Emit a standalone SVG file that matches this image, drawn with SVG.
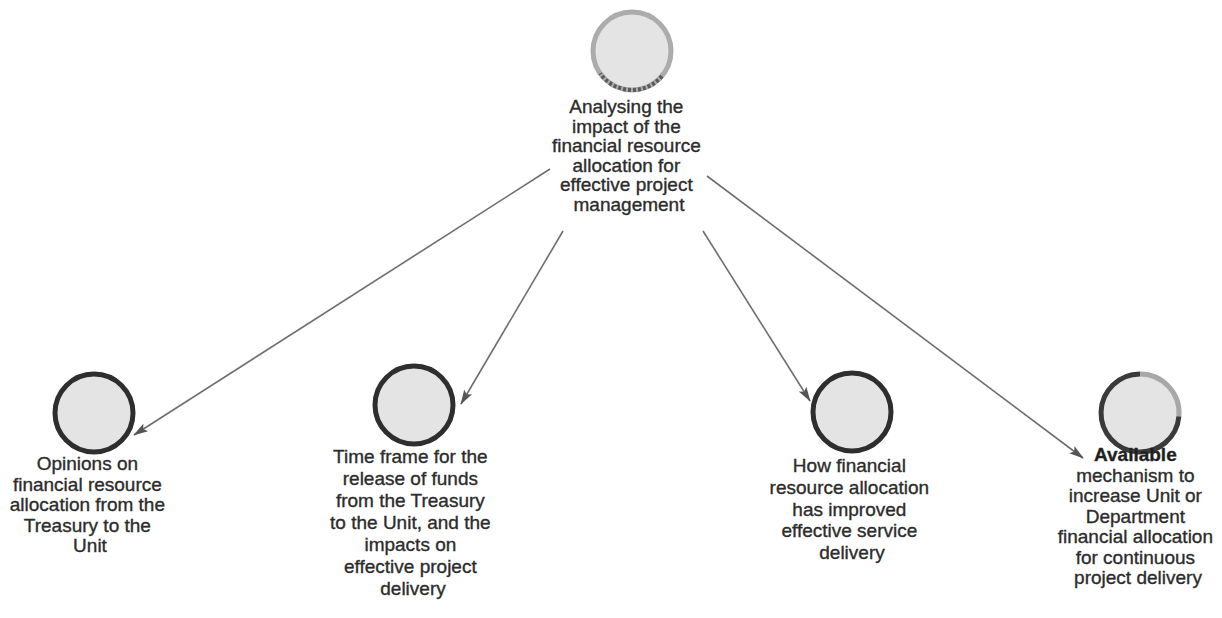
<svg xmlns="http://www.w3.org/2000/svg" width="1222" height="618" viewBox="0 0 1222 618">
  <defs>
    <style>
      .bg { fill: #ffffff; }
      .disc { fill: #e4e4e4; stroke: #2e2e2e; stroke-width: 5; }
      .disc-light { fill: #e4e4e4; stroke: #acacac; stroke-width: 5; }
      .arc-dark { fill: none; stroke: #3a3a3a; stroke-width: 5; }
      .arc-mid { fill: none; stroke: #5a5a5a; stroke-width: 4; stroke-dasharray: 3 2; }
      .arc-light { fill: none; stroke: #a8a8a8; stroke-width: 5; }
      .edge { fill: none; stroke: #6e6e6e; stroke-width: 1.6; marker-end: url(#arrow); }
      .label { font-family: "Liberation Sans", Arial, sans-serif; font-size: 19px; fill: #2c2c2c; stroke: #2c2c2c; stroke-width: 0.35; text-anchor: middle; }
      .strong { font-weight: bold; fill: #1e1e1e; }
    </style>
    <marker id="arrow" markerUnits="userSpaceOnUse" markerWidth="15" markerHeight="10" viewBox="0 0 15 10" refX="14" refY="5" orient="auto">
      <path d="M0,0.5 L15,5 L0,9.5 L3,5 z" fill="#555555"/>
    </marker>
  </defs>

  <rect class="bg" x="0" y="0" width="1222" height="618"/>

  <!-- connectors from the central theme to each sub-theme -->
  <g id="connectors">
    <line class="edge" x1="550" y1="169" x2="134" y2="435"/>
    <line class="edge" x1="563" y1="231" x2="461" y2="404"/>
    <line class="edge" x1="703" y1="231" x2="810" y2="401"/>
    <line class="edge" x1="707" y1="176" x2="1083" y2="458"/>
  </g>

  <!-- central theme -->
  <g id="node-root">
    <circle class="disc-light" cx="632" cy="51" r="39"/>
    <path class="arc-mid" d="M661.9 76.1 A39 39 0 0 1 600.1 73.4"/>
    <text class="label">
      <tspan x="629" y="113">Analysing the</tspan>
      <tspan x="629" y="132.5">impact of the</tspan>
      <tspan x="629" y="152">financial resource</tspan>
      <tspan x="629" y="171.5">allocation for</tspan>
      <tspan x="629" y="191">effective project</tspan>
      <tspan x="629" y="210.5">management</tspan>
    </text>
  </g>

  <g id="node-opinions">
    <circle class="disc" cx="94" cy="413" r="39"/>
    <text class="label">
      <tspan x="90" y="470">Opinions on</tspan>
      <tspan x="90" y="490.5">financial resource</tspan>
      <tspan x="90" y="511">allocation from the</tspan>
      <tspan x="90" y="531.5">Treasury to the</tspan>
      <tspan x="90" y="552">Unit</tspan>
    </text>
  </g>

  <g id="node-timeframe">
    <circle class="disc" cx="414" cy="405" r="39"/>
    <text class="label">
      <tspan x="413" y="463">Time frame for the</tspan>
      <tspan x="413" y="485">release of funds</tspan>
      <tspan x="413" y="507">from the Treasury</tspan>
      <tspan x="413" y="529">to the Unit, and the</tspan>
      <tspan x="413" y="551">impacts on</tspan>
      <tspan x="413" y="573">effective project</tspan>
      <tspan x="413" y="595">delivery</tspan>
    </text>
  </g>

  <g id="node-improved">
    <circle class="disc" cx="852" cy="412" r="39"/>
    <text class="label">
      <tspan x="852" y="472">How financial</tspan>
      <tspan x="852" y="493.75">resource allocation</tspan>
      <tspan x="852" y="515.5">has improved</tspan>
      <tspan x="852" y="537.25">effective service</tspan>
      <tspan x="852" y="559">delivery</tspan>
    </text>
  </g>

  <g id="node-mechanism">
    <circle cx="1140" cy="413" r="39" fill="#e4e4e4"/>
    <path class="arc-light" d="M1140 374 A39 39 0 0 1 1178.9 416.4"/>
    <path class="arc-dark" d="M1178.9 416.4 A39 39 0 1 1 1140 374"/>
    <text class="label">
      <tspan class="strong" x="1138" y="461">Available</tspan>
      <tspan x="1138" y="481.5">mechanism to</tspan>
      <tspan x="1138" y="502">increase Unit or</tspan>
      <tspan x="1138" y="522.5">Department</tspan>
      <tspan x="1138" y="543">financial allocation</tspan>
      <tspan x="1138" y="563.5">for continuous</tspan>
      <tspan x="1138" y="584">project delivery</tspan>
    </text>
  </g>
</svg>
